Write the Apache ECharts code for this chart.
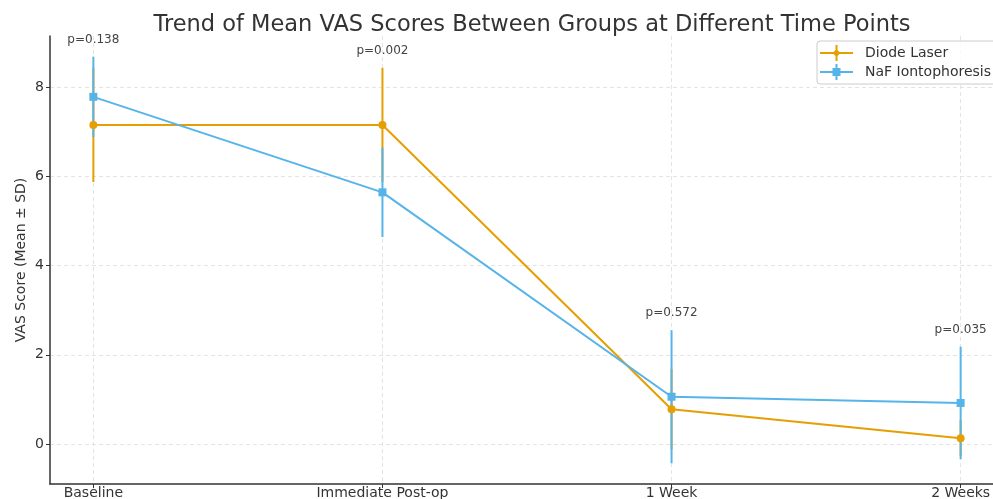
<!DOCTYPE html>
<html>
<head>
<meta charset="utf-8">
<script src="https://cdn.jsdelivr.net/npm/echarts@6/dist/echarts.min.js"></script>
<style>html,body{margin:0;padding:0;background:#fff}#c{width:993px;height:499px}</style>
</head>
<body>
<div id="c"></div>
<script>
const categories = ["Baseline", "Immediate Post-op", "1 Week", "2 Weeks"];
const diodeMean = [7.15, 7.15, 0.78, 0.13];
const diodeSD = [1.28, 1.28, 0.9, 0.4];
const nafMean = [7.78, 5.64, 1.06, 0.92];
const nafSD = [0.9, 1.0, 1.49, 1.26];
const pValues = ["p=0.138", "p=0.002", "p=0.572", "p=0.035"];
const yTicks = [0, 2, 4, 6, 8];
const xTicks = [0, 1, 2, 3];

const FONT = "DejaVu Sans";
const ORANGE = "#E69F00", BLUE = "#56B4E9";

function pts(mean) { return mean.map((v, i) => [i, v]); }
function errData(mean, sd) { return mean.map((v, i) => [i, v - sd[i], v + sd[i]]); }
function errSeries(name, mean, sd, color) {
  return {
    type: 'custom', name: name, data: errData(mean, sd),
    encode: { x: 0, y: [1, 2] },
    renderItem: function (params, api) {
      const lo = api.coord([api.value(0), api.value(1)]);
      const hi = api.coord([api.value(0), api.value(2)]);
      return { type: 'line', shape: { x1: lo[0], y1: lo[1], x2: hi[0], y2: hi[1] },
        style: { stroke: color, lineWidth: 2 } };
    },
    silent: true
  };
}
const labelData = pValues.map((p, i) => [i, Math.max(diodeMean[i] + diodeSD[i], nafMean[i] + nafSD[i]), p]);

const chart = echarts.init(document.getElementById('c'), null, { renderer: 'canvas' });
chart.setOption({
  animation: false,
  backgroundColor: '#fff',
  title: {
    text: 'Trend of Mean VAS Scores Between Groups at Different Time Points',
    left: 527, top: 9, textAlign: 'center',
    textStyle: { fontFamily: FONT, fontSize: 22.5, fontWeight: 'normal', color: '#333' }
  },
  grid: { left: 50, width: 954, top: 36, height: 448, containLabel: false, outerBoundsMode: 'none' },
  legend: {
    left: 817, top: 41, orient: 'vertical', itemGap: 3,
    padding: [4, 8, 4, 3],
    borderColor: '#cccccc', borderWidth: 1, borderRadius: 3,
    backgroundColor: 'rgba(255,255,255,0.8)',
    itemWidth: 33, itemHeight: 16,
    textStyle: { fontFamily: FONT, fontSize: 14, color: '#333', padding: [0, 0, 0, 7] },
    data: [
      { name: 'Diode Laser', icon: 'path://M0,7H33V9H0ZM15.5,0H17.5V16H15.5ZM16.5,4L20.5,8L16.5,12L12.5,8Z', itemStyle: { color: ORANGE } },
      { name: 'NaF Iontophoresis', icon: 'path://M0,7H33V9H0ZM15.5,0H17.5V16H15.5ZM12.5,4H20.5V12H12.5Z', itemStyle: { color: BLUE } }
    ]
  },
  xAxis: {
    type: 'value', min: -0.15, max: 3.15,
    axisLine: { show: true, onZero: false, lineStyle: { color: '#333', width: 1.5 } },
    axisTick: { show: true, length: 4, customValues: xTicks, lineStyle: { color: '#333' } },
    axisLabel: { customValues: xTicks, margin: 2, fontFamily: FONT, fontSize: 14, color: '#333',
      formatter: v => categories[Math.round(v)] },
    splitLine: { show: true, lineStyle: { color: '#dddddd', type: [4, 3], width: 0.8 } }
  },
  yAxis: {
    type: 'value', min: -0.896, max: 9.143,
    name: 'VAS Score (Mean ± SD)', nameLocation: 'middle', nameGap: 22, nameMoveOverlap: false,
    nameTextStyle: { fontFamily: FONT, fontSize: 14, color: '#333' },
    axisLine: { show: true, onZero: false, lineStyle: { color: '#333', width: 1.5 } },
    axisTick: { show: true, length: 4, customValues: yTicks, lineStyle: { color: '#333' } },
    axisLabel: { customValues: yTicks, margin: 6, fontFamily: FONT, fontSize: 14, color: '#333' },
    splitLine: { show: true, lineStyle: { color: '#dddddd', type: [4, 3], width: 0.8 } }
  },
  series: [
    errSeries('Diode Laser', diodeMean, diodeSD, ORANGE),
    { type: 'line', name: 'Diode Laser', data: pts(diodeMean), symbol: 'circle', symbolSize: 8,
      lineStyle: { color: ORANGE, width: 2 }, itemStyle: { color: ORANGE } },
    errSeries('NaF Iontophoresis', nafMean, nafSD, BLUE),
    { type: 'line', name: 'NaF Iontophoresis', data: pts(nafMean), symbol: 'rect', symbolSize: 8,
      lineStyle: { color: BLUE, width: 2 }, itemStyle: { color: BLUE } },
    {
      type: 'custom', name: 'pvals', data: labelData, silent: true,
      encode: { x: 0, y: 1 },
      renderItem: function (params, api) {
        const c = api.coord([api.value(0), api.value(1)]);
        return { type: 'text', x: c[0], y: c[1] - 11,
          style: { text: labelData[params.dataIndex][2], fontFamily: FONT, fontSize: 12, fill: '#444',
            align: 'center', verticalAlign: 'bottom' } };
      }
    }
  ]
});
</script>
</body>
</html>
